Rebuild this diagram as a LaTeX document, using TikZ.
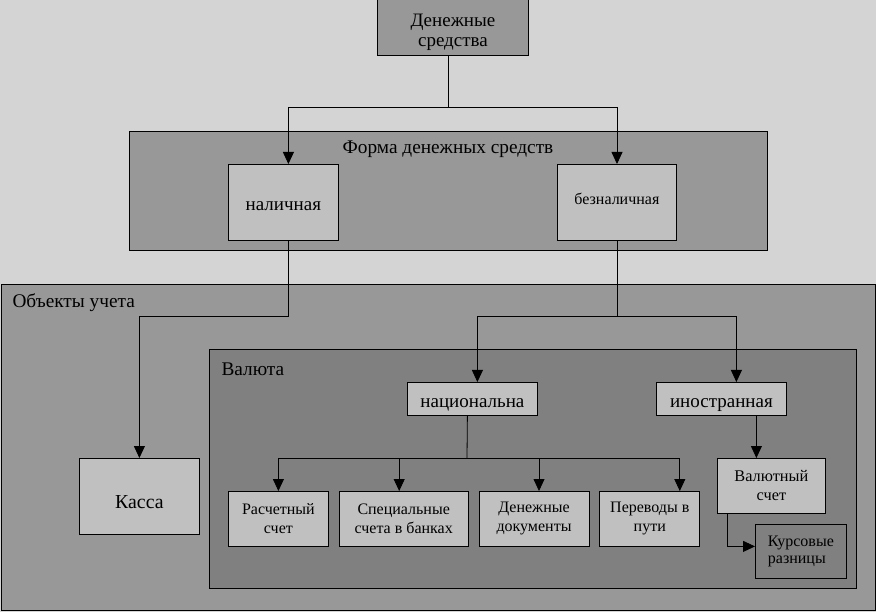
\documentclass[tikz,border=0pt]{standalone}
\usepackage{fontspec}
\setmainfont{Liberation Serif}
\usepackage{xcolor}
\usepackage{tikz}
\usetikzlibrary{shapes,arrows.meta,positioning}
\definecolor{bggray}{RGB}{212,212,212}
\definecolor{midgray}{RGB}{152,152,152}
\definecolor{lightgray}{RGB}{192,192,192}
\definecolor{darkgray}{RGB}{128,128,128}
\tikzstyle{arrow} = [line width=0.8pt,-{Triangle[length=12pt,width=11pt]}]
% text with its baseline the given distance below the centre of the box
\newcommand{\lowered}[2]{\raisebox{-#1}[0pt][0pt]{#2}}

\begin{document}
\begin{tikzpicture}[x=1pt,y=-1pt]
    \tikzstyle{panel} = [rectangle, draw, line width=0.8pt, inner sep=0pt, anchor=north west]
    \tikzstyle{block} = [rectangle, draw, fill=lightgray, line width=0.8pt,
        align=center, inner sep=0pt, anchor=north west]
    \tikzstyle{line} = [draw, line width=0.8pt]

    \fill[bggray] (0,0) rectangle (876,612);
    \useasboundingbox (0,0) rectangle (876,612);

    % Panels
    \node [panel, fill=midgray, minimum width=638pt, minimum height=119pt] (forma) at (129,131) {};
    \node [font=\fontsize{19.3}{22}\selectfont] (formatitle) at (448,149) {Форма денежных средств};
    \node [panel, fill=midgray, minimum width=874pt, minimum height=326pt] (objects) at (1,284) {};
    \node [anchor=west, font=\fontsize{19.3}{22}\selectfont] (objtitle) at (9,303) {Объекты учета};
    \node [panel, fill=darkgray, minimum width=647pt, minimum height=239pt] (valuta) at (209,349) {};
    \node [anchor=west, font=\fontsize{19.3}{22}\selectfont] (valtitle) at (218,369) {Валюта};

    % Blocks
    \node [block, fill=midgray, minimum width=151pt, minimum height=56pt,
        font=\fontsize{19}{20}\selectfont] (cash) at (377,-1) {\mbox{}\\[1.4pt]Денежные\\средства};
    \node [block, minimum width=110pt, minimum height=76pt,
        font=\fontsize{19}{22}\selectfont] (nal) at (228,164) {\lowered{8pt}{наличная}};
    \node [block, minimum width=119pt, minimum height=76pt,
        font=\fontsize{16}{19}\selectfont] (beznal) at (557,164) {\lowered{2pt}{безналичная}};
    \node [block, minimum width=120pt, minimum height=76pt,
        font=\fontsize{19.8}{22}\selectfont] (kassa) at (79,458) {\lowered{12pt}{Касса}};
    \node [block, minimum width=130pt, minimum height=33pt,
        font=\fontsize{19}{22}\selectfont] (nat) at (407,382) {\lowered{8.5pt}{национальна}};
    \node [block, minimum width=130pt, minimum height=33pt,
        font=\fontsize{19}{22}\selectfont] (ino) at (656,382) {\lowered{8.5pt}{иностранная}};

    \tikzset{row/.style={block, minimum height=55pt, font=\fontsize{16}{19}\selectfont}}
    \node [row, minimum width=100pt] (rs) at (228,491) {Расчетный\\счет};
    \node [row, minimum width=129pt, right=10pt of rs] (spec) {Специальные\\счета в банках};
    \node [row, minimum width=110pt, right=10pt of spec] (dendoc) {Денежные\\документы};
    \node [row, minimum width=100pt, right=10pt of dendoc] (perev) {Переводы в\\пути};

    \node [block, minimum width=108pt, minimum height=55pt,
        font=\fontsize{16.3}{19}\selectfont] (vs) at (717,458) {Валютный\\счет};
    \node [block, fill=darkgray, minimum width=91pt, minimum height=54pt, align=left,
        font=\fontsize{16}{17}\selectfont] (kr) at (755,524) {Курсовые\\разницы};

    % Arrows
    \coordinate (split1) at (448,107);
    \coordinate (split2) at (617,316);
    \coordinate (split3) at (467,458);
    \draw [line] (cash.south -| split1) -- (split1);
    \draw [arrow] (split1) -| ([xshift=5pt]nal.north);
    \draw [arrow] (split1) -| (beznal.north -| split2);
    \draw [arrow] ([xshift=5pt]nal.south) -- ++(0,76) -| (kassa.north);
    \draw [line] (beznal.south -| split2) -- (split2);
    \draw [arrow] (split2) -| ([xshift=5pt]nat.north);
    \draw [arrow] (split2) -| ([xshift=15pt]ino.north);
    \draw [line] ([xshift=-5pt]nat.south) -- (split3);
    \draw [arrow] (split3) -| (rs.north);
    \draw [arrow] (split3) -| ([xshift=-4.5pt]spec.north);
    \draw [arrow] (split3) -| ([xshift=5pt]dendoc.north);
    \draw [arrow] (split3) -| ([xshift=30pt]perev.north);
    \draw [arrow] ([xshift=35pt]ino.south) -- ([xshift=35pt]ino.south |- vs.north);
    \draw [arrow] ([xshift=10pt]vs.south west) |- ([yshift=5pt]kr.west);

\end{tikzpicture}
\end{document}
